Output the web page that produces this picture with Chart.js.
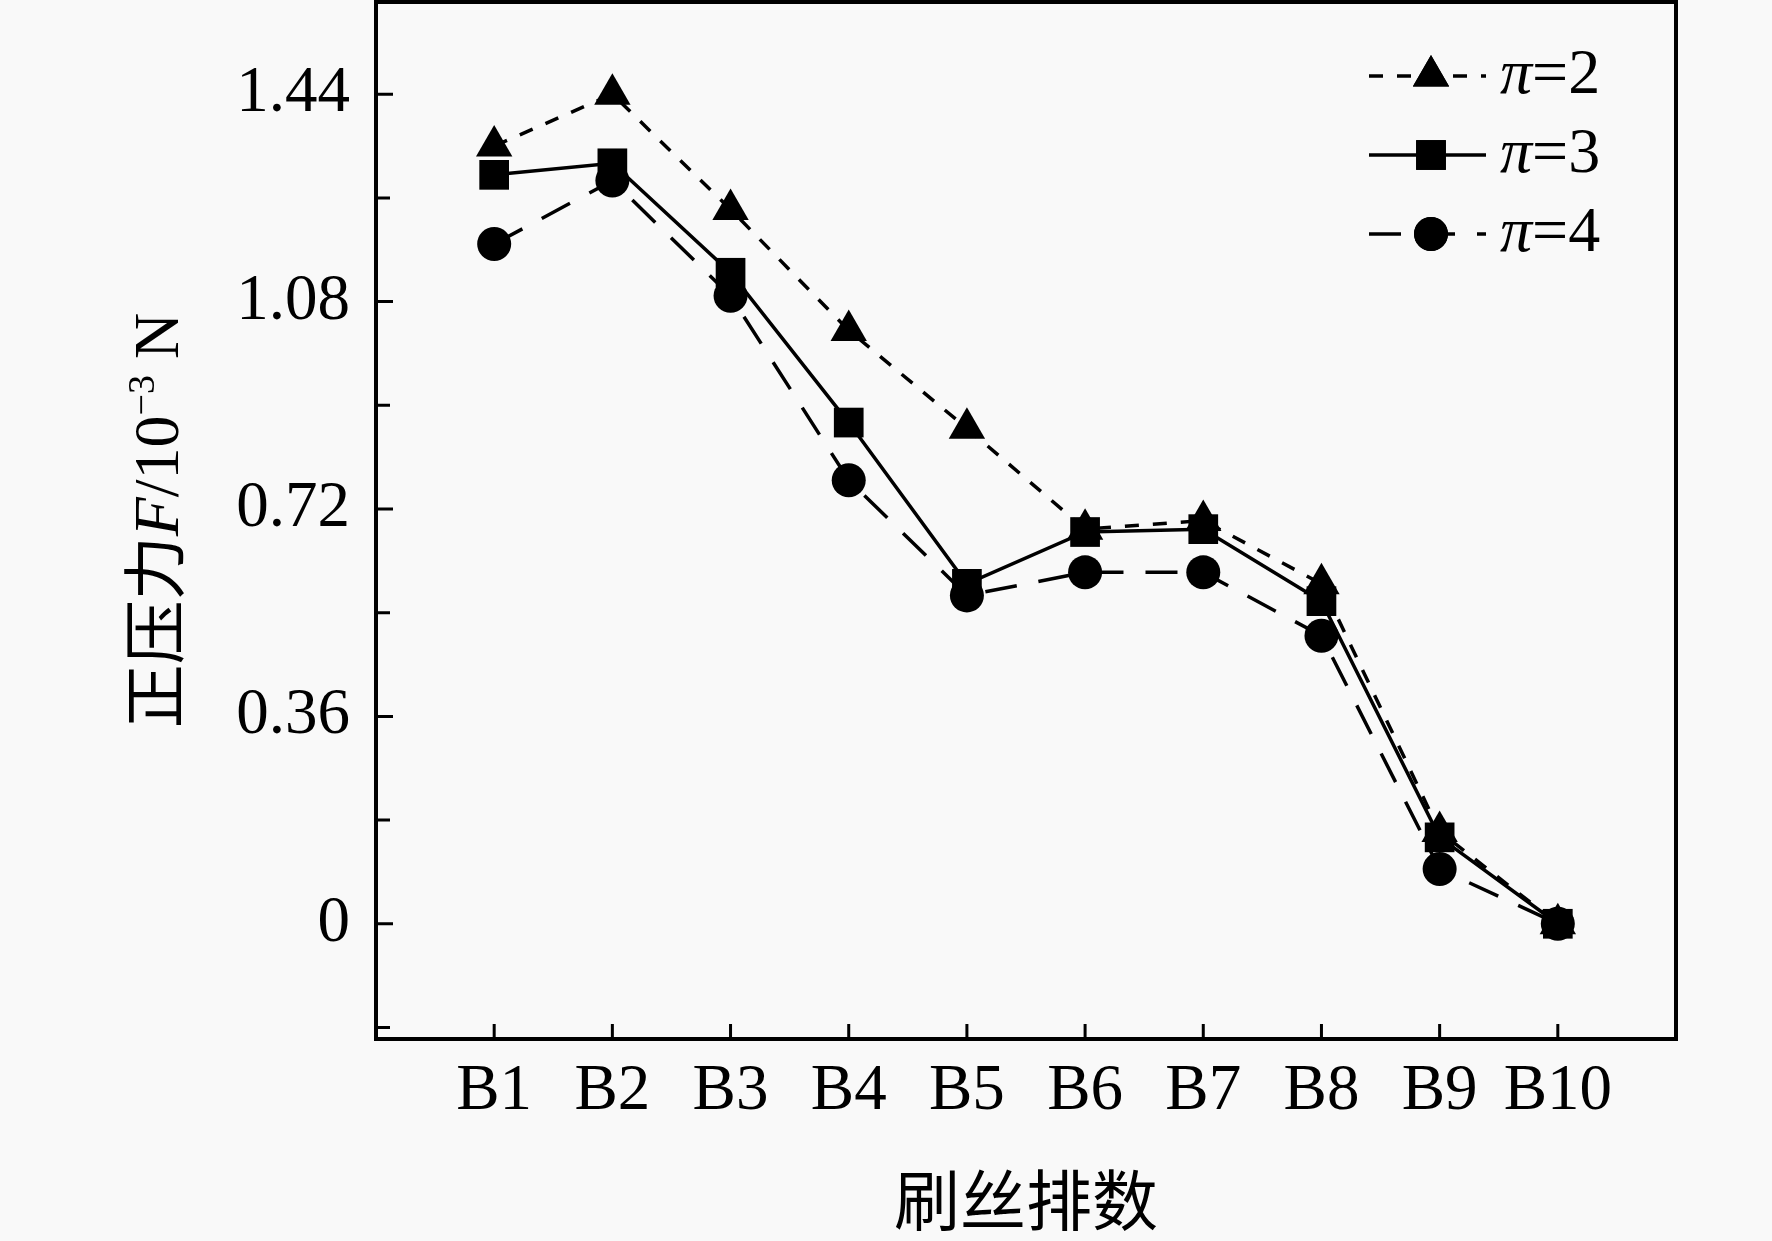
<!DOCTYPE html>
<html>
<head>
<meta charset="utf-8">
<script src="https://cdn.jsdelivr.net/npm/chart.js@4/dist/chart.umd.min.js"></script>
<style>
  html, body { margin: 0; padding: 0; background: #f9f9f9; }
  #wrap { width: 1772px; height: 1241px; }
</style>
</head>
<body>
<div id="wrap"><canvas id="chart" width="1772" height="1241"></canvas></div>
<script>
// 数据
const categories = ['B1', 'B2', 'B3', 'B4', 'B5', 'B6', 'B7', 'B8', 'B9', 'B10'];
const pi2 = [1.35, 1.44, 1.24, 1.03, 0.86, 0.685, 0.70, 0.59, 0.16, 0];
const pi3 = [1.30, 1.32, 1.13, 0.87, 0.59, 0.68, 0.685, 0.56, 0.15, 0];
const pi4 = [1.18, 1.29, 1.09, 0.77, 0.57, 0.61, 0.61, 0.50, 0.095, 0];
const seriesNames = ['2', '3', '4'];

const yTickValues = [0, 0.36, 0.72, 1.08, 1.44];
const yTickLabels = ['0', '0.36', '0.72', '1.08', '1.44'];
const yMinorTicks = [-0.18, 0.18, 0.54, 0.9, 1.26];

const SERIF = '"Liberation Serif", "Times New Roman", serif';
const CJK = '"Noto Sans CJK SC", sans-serif';

function toPoints(arr) {
    return arr.map((v, i) => ({ x: i + 1, y: v }));
}

// 边框、刻度、坐标轴标题和图例
const decorPlugin = {
    id: 'decor',
    beforeDraw(chart) {
        const ctx = chart.ctx;
        ctx.save();
        ctx.fillStyle = '#f9f9f9';
        ctx.fillRect(0, 0, chart.width, chart.height);
        ctx.restore();
    },
    afterDraw(chart) {
        const ctx = chart.ctx;
        const a = chart.chartArea;
        const xs = chart.scales.x, ys = chart.scales.y;
        ctx.save();
        ctx.strokeStyle = '#000';
        ctx.lineCap = 'butt';

        // ticks pointing inward
        ctx.lineWidth = 3;
        ctx.beginPath();
        yTickValues.forEach(v => {
            const y = ys.getPixelForValue(v);
            ctx.moveTo(a.left, y); ctx.lineTo(a.left + 17, y);
        });
        yMinorTicks.forEach(v => {
            const y = ys.getPixelForValue(v);
            ctx.moveTo(a.left, y); ctx.lineTo(a.left + 14, y);
        });
        categories.forEach((c, i) => {
            const x = xs.getPixelForValue(i + 1);
            ctx.moveTo(x, a.bottom); ctx.lineTo(x, a.bottom - 15);
        });
        ctx.stroke();

        // frame
        ctx.lineWidth = 4;
        ctx.strokeRect(a.left, a.top, a.right - a.left, a.bottom - a.top);

        // x title
        ctx.fillStyle = '#000';
        ctx.font = '66px ' + CJK;
        ctx.textAlign = 'center';
        ctx.textBaseline = 'middle';
        ctx.fillText('刷丝排数', (a.left + a.right) / 2, 1200);

        // y title (rotated, mixed fonts)
        const fs = 64;
        const parts = [
            { t: '正压力', f: fs + 'px ' + CJK, dy: 0 },
            { t: 'F', f: 'italic ' + fs + 'px ' + SERIF, dy: 0 },
            { t: '/10', f: fs + 'px ' + SERIF, dy: 0 },
            { t: '\u22123', f: Math.round(fs * 0.6) + 'px ' + SERIF, dy: -fs * 0.38 },
            { t: ' N', f: fs + 'px ' + SERIF, dy: 0 }
        ];
        let total = 0;
        parts.forEach(p => { ctx.font = p.f; p.w = ctx.measureText(p.t).width; total += p.w; });
        ctx.translate(178, (a.top + a.bottom) / 2);
        ctx.rotate(-Math.PI / 2);
        ctx.textAlign = 'left';
        ctx.textBaseline = 'alphabetic';
        let px = -total / 2;
        parts.forEach(p => {
            ctx.font = p.f;
            ctx.fillText(p.t, px, p.dy);
            px += p.w;
        });
        ctx.setTransform(1, 0, 0, 1, 0, 0);

        // legend
        const rowY = [76, 155, 234];
        chart.data.datasets.forEach((ds, i) => {
            const y = rowY[i];
            ctx.save();
            ctx.lineWidth = ds.borderWidth;
            ctx.setLineDash(ds.borderDash || []);
            ctx.beginPath();
            ctx.moveTo(1369, y); ctx.lineTo(1486, y);
            ctx.stroke();
            ctx.restore();
            ctx.fillStyle = '#000';
            const style = { pointStyle: ds.pointStyle, radius: ds.pointRadius, rotation: 0, borderWidth: 0 };
            ctx.beginPath();
            if (Chart.helpers && Chart.helpers.drawPoint) {
                Chart.helpers.drawPoint(ctx, style, 1431, y);
                ctx.fill();
            }
            ctx.textBaseline = 'middle';
            ctx.textAlign = 'left';
            ctx.font = 'italic 64px ' + SERIF;
            ctx.fillText('\u03c0', 1500, y);
            const w = ctx.measureText('\u03c0').width;
            ctx.font = '64px ' + SERIF;
            ctx.fillText('=' + seriesNames[i], 1500 + w, y);
        });
        ctx.restore();
    }
};

const common = {
    borderColor: '#000',
    backgroundColor: '#000',
    pointBackgroundColor: '#000',
    pointBorderColor: '#000',
    pointBorderWidth: 0,
    borderWidth: 3.5,
    fill: false,
    tension: 0
};

new Chart(document.getElementById('chart'), {
    type: 'line',
    data: {
        datasets: [
            { ...common, label: 'π=2', data: toPoints(pi2), borderDash: [14, 14], pointStyle: 'triangle', pointRadius: 21 },
            { ...common, label: 'π=3', data: toPoints(pi3), borderDash: [], pointStyle: 'rect', pointRadius: 21 },
            { ...common, label: 'π=4', data: toPoints(pi4), borderDash: [32, 22], pointStyle: 'circle', pointRadius: 17 }
        ]
    },
    options: {
        responsive: false,
        animation: false,
        devicePixelRatio: 1,
        events: [],
        layout: { autoPadding: false, padding: { top: 2, right: 96, left: 0, bottom: 0 } },
        plugins: { legend: { display: false }, tooltip: { enabled: false } },
        scales: {
            x: {
                type: 'linear',
                min: 0,
                max: 11,
                afterBuildTicks: s => { s.ticks = categories.map((c, i) => ({ value: i + 1 })); },
                afterFit: s => { s.height = 202; s.paddingLeft = 0; s.paddingRight = 0; },
                grid: { display: false, drawTicks: false },
                border: { display: false },
                ticks: {
                    autoSkip: false,
                    maxRotation: 0,
                    padding: 14,
                    color: '#000',
                    font: { family: SERIF, size: 65 },
                    callback: v => categories[v - 1]
                }
            },
            y: {
                min: -0.2,
                max: 1.6,
                afterBuildTicks: s => { s.ticks = yTickValues.map(v => ({ value: v })); },
                afterFit: s => { s.width = 376; s.paddingTop = 0; s.paddingBottom = 0; },
                grid: { display: false, drawTicks: false },
                border: { display: false },
                ticks: {
                    padding: 26,
                    color: '#000',
                    font: { family: SERIF, size: 65 },
                    callback: v => yTickLabels[yTickValues.indexOf(v)]
                }
            }
        }
    },
    plugins: [decorPlugin]
});
</script>
</body>
</html>
